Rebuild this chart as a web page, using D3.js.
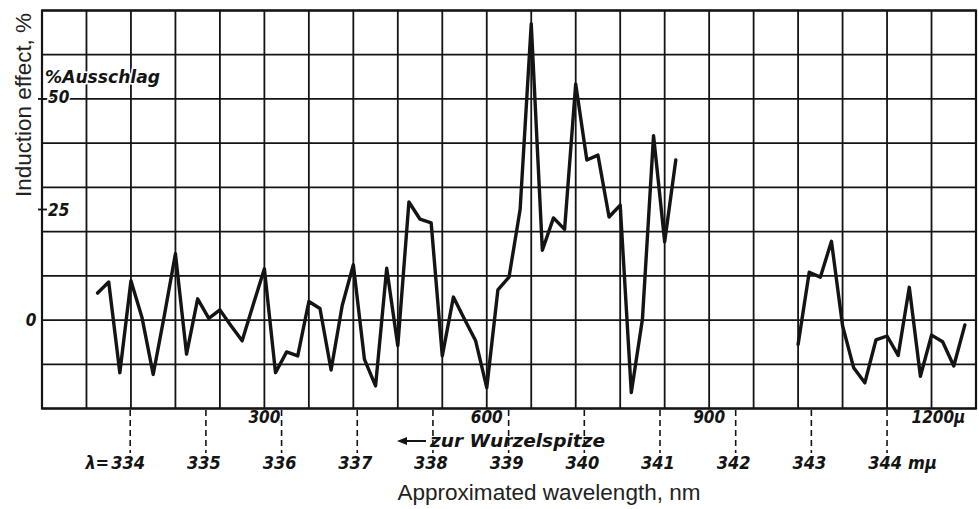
<!DOCTYPE html>
<html><head><meta charset="utf-8">
<script src="https://cdn.jsdelivr.net/npm/d3@7"></script>
<style>body{margin:0;background:#fff} svg{display:block}</style>
</head><body>
<svg id="chart" width="979" height="509"></svg>
<script>
// Distance from root tip (µ) and induction effect (%), first measured stretch
const segment1Distance = [75,90,105,120,135,150,165,180,195,210,225,240,255,270,285,300,315,330,345,360,375,390,405,420,435,450,465,480,495,510,525,540,555,570,585,600,615,630,645,660,675,690,705,720,735,750,765,780,795,810,825,840,855];
const segment1Effect = [6.1,8.6,-11.9,8.9,0.5,-12.3,1,15,-7.7,4.8,0.4,2.3,-1.3,-4.7,3.5,11.6,-11.9,-7.2,-8.1,4.2,2.6,-11.3,3.3,12.5,-8.9,-14.9,11.7,-5.8,26.7,22.8,22,-8.1,5.2,0.2,-4.7,-15.3,6.8,9.7,25,67,15.8,23.1,20.5,53.4,36.2,37.3,23.3,26,-16.4,0.2,41.7,17.7,36.2];
// second measured stretch
const segment2Distance = [1020,1035,1050,1065,1080,1095,1110,1125,1140,1155,1170,1185,1200,1215,1230,1245];
const segment2Effect = [-5.5,10.8,9.7,17.8,-1.3,-10.8,-14.2,-4.5,-3.6,-8,7.4,-12.7,-3.4,-4.9,-10.4,-1.1];

const distanceTicks = [300,600,900,1200];
const distanceTickLabels = ["300","600","900","1200µ"];
const wavelengthTicks = [334,335,336,337,338,339,340,341,342,343,344];
const effectTicks = [0,25,50];

const svg = d3.select("#chart");
const L = 42, R = 976, T = 10.5, B = 408.5;
const x = d3.scaleLinear().domain([0,1260]).range([L,R]);
const y = d3.scaleLinear().domain([-20,70]).range([B,T]);
// calibration wavelength (nm) -> distance (µ)
const nmToMicron = d3.scaleLinear().domain([334,344]).range([119,1140]);

const ink = "#141414";
const labelFont = "'DejaVu Sans Condensed','DejaVu Sans',sans-serif";

// grid
const g = svg.append("g");
g.selectAll("line.v").data(d3.range(0,1261,60)).enter().append("line")
  .attr("x1", d=>x(d)).attr("x2", d=>x(d)).attr("y1", T).attr("y2", B)
  .attr("stroke", ink).attr("stroke-width", 1.8);
g.selectAll("line.h").data(d3.range(-20,71,10)).enter().append("line")
  .attr("x1", L).attr("x2", R).attr("y1", d=>y(d)).attr("y2", d=>y(d))
  .attr("stroke", ink).attr("stroke-width", 1.8);
g.append("rect").attr("x", L).attr("y", T).attr("width", R-L).attr("height", B-T)
  .attr("fill","none").attr("stroke", ink).attr("stroke-width", 2.2);

// data lines
const line = d3.line().x(d=>x(d[0])).y(d=>y(d[1]));
[[segment1Distance, segment1Effect],[segment2Distance, segment2Effect]].forEach(([xs, ys])=>{
  svg.append("path").datum(xs.map((d,i)=>[d, ys[i]]))
    .attr("d", line).attr("fill","none").attr("stroke", ink)
    .attr("stroke-width", 3.4).attr("stroke-linejoin","round").attr("stroke-linecap","round");
});

// y labels
function lab(sel){ return sel.attr("font-family", labelFont).attr("font-style","italic").attr("font-weight","bold").attr("fill", ink); }
effectTicks.forEach(v=>{
  if (v === 0) {
    lab(svg.append("text")).attr("x", 31).attr("y", y(v)).attr("dy","0.36em")
      .attr("text-anchor","middle").attr("font-size", 17).text("0");
  } else {
    svg.append("line").attr("x1", 38).attr("x2", 47).attr("y1", y(v)).attr("y2", y(v))
      .attr("stroke", ink).attr("stroke-width", 1.8);
    lab(svg.append("text")).attr("x", 48).attr("y", y(v) - (v===50?2:0)).attr("dy","0.36em")
      .attr("font-size", 17).attr("stroke","#fff").attr("stroke-width",3).attr("paint-order","stroke")
      .text(String(v));
  }
});
lab(svg.append("text")).attr("x", 45).attr("y", 83).attr("font-size", 17)
  .attr("stroke","#fff").attr("stroke-width",3).attr("paint-order","stroke")
  .attr("textLength", 115).attr("lengthAdjust","spacingAndGlyphs").text("%Ausschlag");

// distance labels
distanceTicks.forEach((d,i)=>{
  const t = lab(svg.append("text")).attr("y", 423).attr("font-size", 17);
  if (i === distanceTicks.length-1) {
    t.attr("x", x(d) - 20).attr("text-anchor","start").text(distanceTickLabels[i]);
  } else {
    t.attr("x", x(d)).attr("text-anchor","middle").text(distanceTickLabels[i]);
  }
});

// wavelength ticks (dashed) and labels
wavelengthTicks.forEach(nm=>{
  const px = x(nmToMicron(nm));
  svg.append("line").attr("x1", px).attr("x2", px).attr("y1", 410).attr("y2", 453)
    .attr("stroke", ink).attr("stroke-width", 1.6).attr("stroke-dasharray","6,4");
  lab(svg.append("text")).attr("x", px - 2).attr("y", 469).attr("text-anchor","middle")
    .attr("font-size", 18).text(String(nm));
  if (nm === 334) lab(svg.append("text")).attr("x", px - 21).attr("y", 469).attr("text-anchor","end")
    .attr("font-size", 18).text("λ=");
  if (nm === 344) lab(svg.append("text")).attr("x", px + 21).attr("y", 469).attr("text-anchor","start")
    .attr("font-size", 18).text("mµ");
});

// arrow + zur Wurzelspitze
svg.append("line").attr("x1", 404).attr("x2", 426).attr("y1", 441).attr("y2", 441)
  .attr("stroke", ink).attr("stroke-width", 2);
svg.append("path").attr("d","M397,441 L407,437 L407,445 Z").attr("fill", ink);
lab(svg.append("text")).attr("x", 430).attr("y", 447).attr("font-size", 18)
  .attr("textLength", 175).attr("lengthAdjust","spacingAndGlyphs").text("zur Wurzelspitze");

// axis titles
svg.append("text").attr("transform","translate(31,105) rotate(-90)").attr("text-anchor","middle")
  .attr("font-family","'Liberation Sans',Arial,sans-serif").attr("font-size", 22).attr("fill","#222")
  .attr("textLength", 184).attr("lengthAdjust","spacingAndGlyphs")
  .text("Induction effect, %");
svg.append("text").attr("x", 549).attr("y", 500).attr("text-anchor","middle")
  .attr("font-family","'Liberation Sans',Arial,sans-serif").attr("font-size", 22).attr("fill","#222")
  .attr("textLength", 303).attr("lengthAdjust","spacingAndGlyphs")
  .text("Approximated wavelength, nm");
</script>
</body></html>
